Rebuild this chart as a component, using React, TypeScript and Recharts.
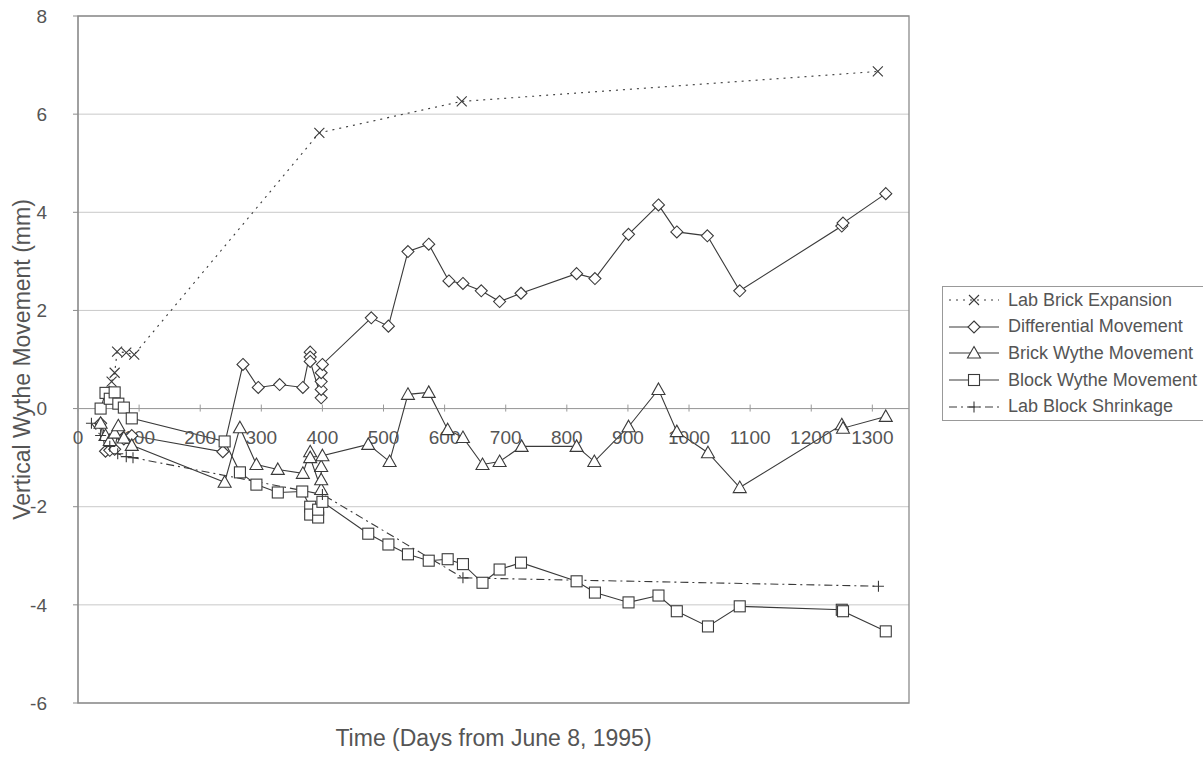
import React from "react";
import {
  CartesianGrid,
  Line,
  LineChart,
  ReferenceArea,
  ReferenceDot,
  ReferenceLine,
  XAxis,
  YAxis,
} from "recharts";

// days since June 8, 1995 and movement in mm, one pair of lists per series
const labBrickDays = [45, 55, 60, 64, 79, 92, 395, 628, 1309];
const labBrickMm = [0.3, 0.55, 0.73, 1.16, 1.14, 1.1, 5.62, 6.26, 6.87];

const diffDays = [
  37, 45, 52, 60, 66, 75, 88, 237, 270, 295, 330, 368, 380, 380, 380, 398,
  398, 398, 398, 400, 480, 508, 540, 574, 607, 630, 660, 690, 725, 816, 846,
  901, 950, 980, 1030, 1083, 1250, 1252, 1322,
];
const diffMm = [
  -0.3, -0.87, -0.85, -0.83, -0.45, -0.62, -0.55, -0.88, 0.9, 0.43, 0.49,
  0.43, 1.15, 1.05, 0.96, 0.22, 0.39, 0.55, 0.73, 0.9, 1.85, 1.68, 3.2, 3.35,
  2.6, 2.55, 2.4, 2.18, 2.35, 2.75, 2.65, 3.55, 4.15, 3.6, 3.52, 2.4, 3.72,
  3.78, 4.38,
];

const brickDays = [
  37, 45, 52, 60, 66, 75, 88, 240, 265, 292, 327, 368, 380, 380, 398, 398,
  398, 400, 475, 510, 540, 574, 605, 630, 662, 690, 726, 816, 845, 901, 950,
  980, 1031, 1083, 1250, 1252, 1322,
];
const brickMm = [
  -0.3, -0.55, -0.65, -0.5, -0.35, -0.6, -0.75, -1.5, -0.39, -1.14, -1.24,
  -1.32, -0.88, -1.0, -1.65, -1.45, -1.18, -0.96, -0.73, -1.08, 0.29, 0.33,
  -0.43, -0.59, -1.14, -1.08, -0.77, -0.77, -1.08, -0.37, 0.39, -0.47, -0.9,
  -1.61, -0.33, -0.4, -0.16,
];

const blockDays = [
  37, 45, 52, 60, 66, 75, 88, 240, 265, 292, 327, 367, 380, 380, 393, 393,
  400, 475, 508, 540, 574, 605, 630, 662, 690, 725, 816, 846, 901, 950, 980,
  1031, 1083, 1250, 1252, 1322,
];
const blockMm = [
  0.0, 0.32, 0.2, 0.33, 0.1, 0.02, -0.2, -0.67, -1.3, -1.55, -1.71, -1.69,
  -2.0, -2.16, -2.22, -2.06, -1.9, -2.55, -2.77, -2.97, -3.1, -3.07, -3.17,
  -3.55, -3.28, -3.14, -3.52, -3.75, -3.95, -3.81, -4.13, -4.44, -4.03, -4.1,
  -4.13, -4.54,
];

const labBlockDays = [22, 37, 52, 65, 79, 90, 400, 630, 1310];
const labBlockMm = [-0.3, -0.55, -0.77, -0.92, -0.98, -1.0, -1.75, -3.45, -3.62];

const xTicks = [0, 100, 200, 300, 400, 500, 600, 700, 800, 900, 1000, 1100, 1200, 1300];
const yTicks = [-6, -4, -2, 0, 2, 4, 6, 8];

const FONT = '"Liberation Sans", Arial, sans-serif';
const INK = "#3a3a3a";
const TEXT = "#555";

type Marker = "x" | "diamond" | "triangle" | "square" | "plus";

const toRows = (days: number[], mm: number[]) =>
  days.map((day, i) => ({ day, mm: mm[i] }));

function MarkerShape({ kind, cx, cy }: { kind: Marker; cx: number; cy: number }) {
  const common = { stroke: INK, strokeWidth: 1.1 };
  switch (kind) {
    case "diamond":
      return (
        <polygon
          points={`${cx},${cy - 6} ${cx + 6},${cy} ${cx},${cy + 6} ${cx - 6},${cy}`}
          fill="#fff"
          {...common}
        />
      );
    case "triangle":
      return (
        <polygon
          points={`${cx},${cy - 6.5} ${cx + 6.5},${cy + 5} ${cx - 6.5},${cy + 5}`}
          fill="#fff"
          {...common}
        />
      );
    case "square":
      return <rect x={cx - 5.5} y={cy - 5.5} width={11} height={11} fill="#fff" {...common} />;
    case "x":
      return (
        <path
          d={`M${cx - 5},${cy - 5}L${cx + 5},${cy + 5}M${cx - 5},${cy + 5}L${cx + 5},${cy - 5}`}
          fill="none"
          {...common}
        />
      );
    default:
      return (
        <path
          d={`M${cx - 5.5},${cy}L${cx + 5.5},${cy}M${cx},${cy - 5.5}L${cx},${cy + 5.5}`}
          fill="none"
          {...common}
        />
      );
  }
}

const dotFor = (kind: Marker) => (props: any) => {
  const { cx, cy, index } = props;
  if (cx == null || cy == null) return <g key={index} />;
  return (
    <g key={index}>
      <MarkerShape kind={kind} cx={cx} cy={cy} />
    </g>
  );
};

const series = [
  { name: "Lab Brick Expansion", kind: "x" as Marker, dash: "2 5", rows: toRows(labBrickDays, labBrickMm) },
  { name: "Differential Movement", kind: "diamond" as Marker, dash: undefined, rows: toRows(diffDays, diffMm) },
  { name: "Brick Wythe Movement", kind: "triangle" as Marker, dash: undefined, rows: toRows(brickDays, brickMm) },
  { name: "Block Wythe Movement", kind: "square" as Marker, dash: undefined, rows: toRows(blockDays, blockMm) },
  { name: "Lab Block Shrinkage", kind: "plus" as Marker, dash: "8 4 2 4", rows: toRows(labBlockDays, labBlockMm) },
];

// day labels sit on the zero line, the way the spreadsheet drew them
const ZeroTick = (label: number) => (props: any) => {
  const { cx, cy } = props;
  return (
    <g>
      <line x1={cx} x2={cx} y1={cy - 4} y2={cy + 3} stroke="#999" />
      <text
        x={cx}
        y={cy + 29}
        dy="0.35em"
        textAnchor="middle"
        fontSize={19}
        fontFamily={FONT}
        fill={TEXT}
      >
        {label}
      </text>
    </g>
  );
};

function LegendBox() {
  return (
    <div
      style={{
        position: "absolute",
        left: 942,
        top: 286,
        width: 262,
        border: "1px solid #999",
        background: "#fff",
        fontFamily: FONT,
        fontSize: 18,
        color: TEXT,
      }}
    >
      {series.map((s) => (
        <div key={s.name} style={{ display: "flex", alignItems: "center", height: 26.6 }}>
          <svg width={60} height={26} style={{ flex: "none" }}>
            <line x1={6} x2={56} y1={13} y2={13} stroke={INK} strokeWidth={1.1} strokeDasharray={s.dash} />
            <MarkerShape kind={s.kind} cx={31} cy={13} />
          </svg>
          <span style={{ marginLeft: 5, whiteSpace: "nowrap" }}>{s.name}</span>
        </div>
      ))}
    </div>
  );
}

export default function App() {
  return (
    <div style={{ position: "absolute", left: 0, top: 0, width: 1203, height: 759, background: "#fff" }}>
      <LineChart width={1203} height={759} margin={{ top: 16, right: 294, bottom: 0, left: 0 }}>
        <CartesianGrid vertical={false} stroke="#c9c9c9" />
        <XAxis
          dataKey="day"
          type="number"
          domain={[0, 1360]}
          ticks={xTicks}
          height={56}
          tick={false}
          axisLine={false}
          tickLine={false}
          label={{
            value: "Time (Days from June 8, 1995)",
            position: "insideBottom",
            offset: 13,
            style: { fontSize: 23, fontFamily: FONT, fill: TEXT },
          }}
        />
        <YAxis
          type="number"
          domain={[-6, 8]}
          ticks={yTicks}
          width={78}
          interval={0}
          stroke="#8c8c8c"
          tickSize={5}
          tickMargin={26}
          tick={{ fontSize: 19, fontFamily: FONT, fill: TEXT }}
          label={{
            value: "Vertical Wythe Movement (mm)",
            angle: -90,
            position: "insideLeft",
            offset: 22,
            style: { fontSize: 23, fontFamily: FONT, fill: TEXT, textAnchor: "middle" },
          }}
        />
        <ReferenceArea x1={0} x2={1360} y1={-6} y2={8} fill="none" stroke="#8c8c8c" strokeWidth={1.3} />
        <ReferenceLine y={0} stroke="#9a9a9a" />
        {xTicks.map((t) => (
          <ReferenceDot key={t} x={t} y={0} r={0} shape={ZeroTick(t)} />
        ))}
        {series.map((s) => (
          <Line
            key={s.name}
            data={s.rows}
            dataKey="mm"
            name={s.name}
            type="linear"
            stroke={INK}
            strokeWidth={1.1}
            strokeDasharray={s.dash}
            dot={dotFor(s.kind)}
            activeDot={false}
            isAnimationActive={false}
          />
        ))}
      </LineChart>
      <LegendBox />
    </div>
  );
}
